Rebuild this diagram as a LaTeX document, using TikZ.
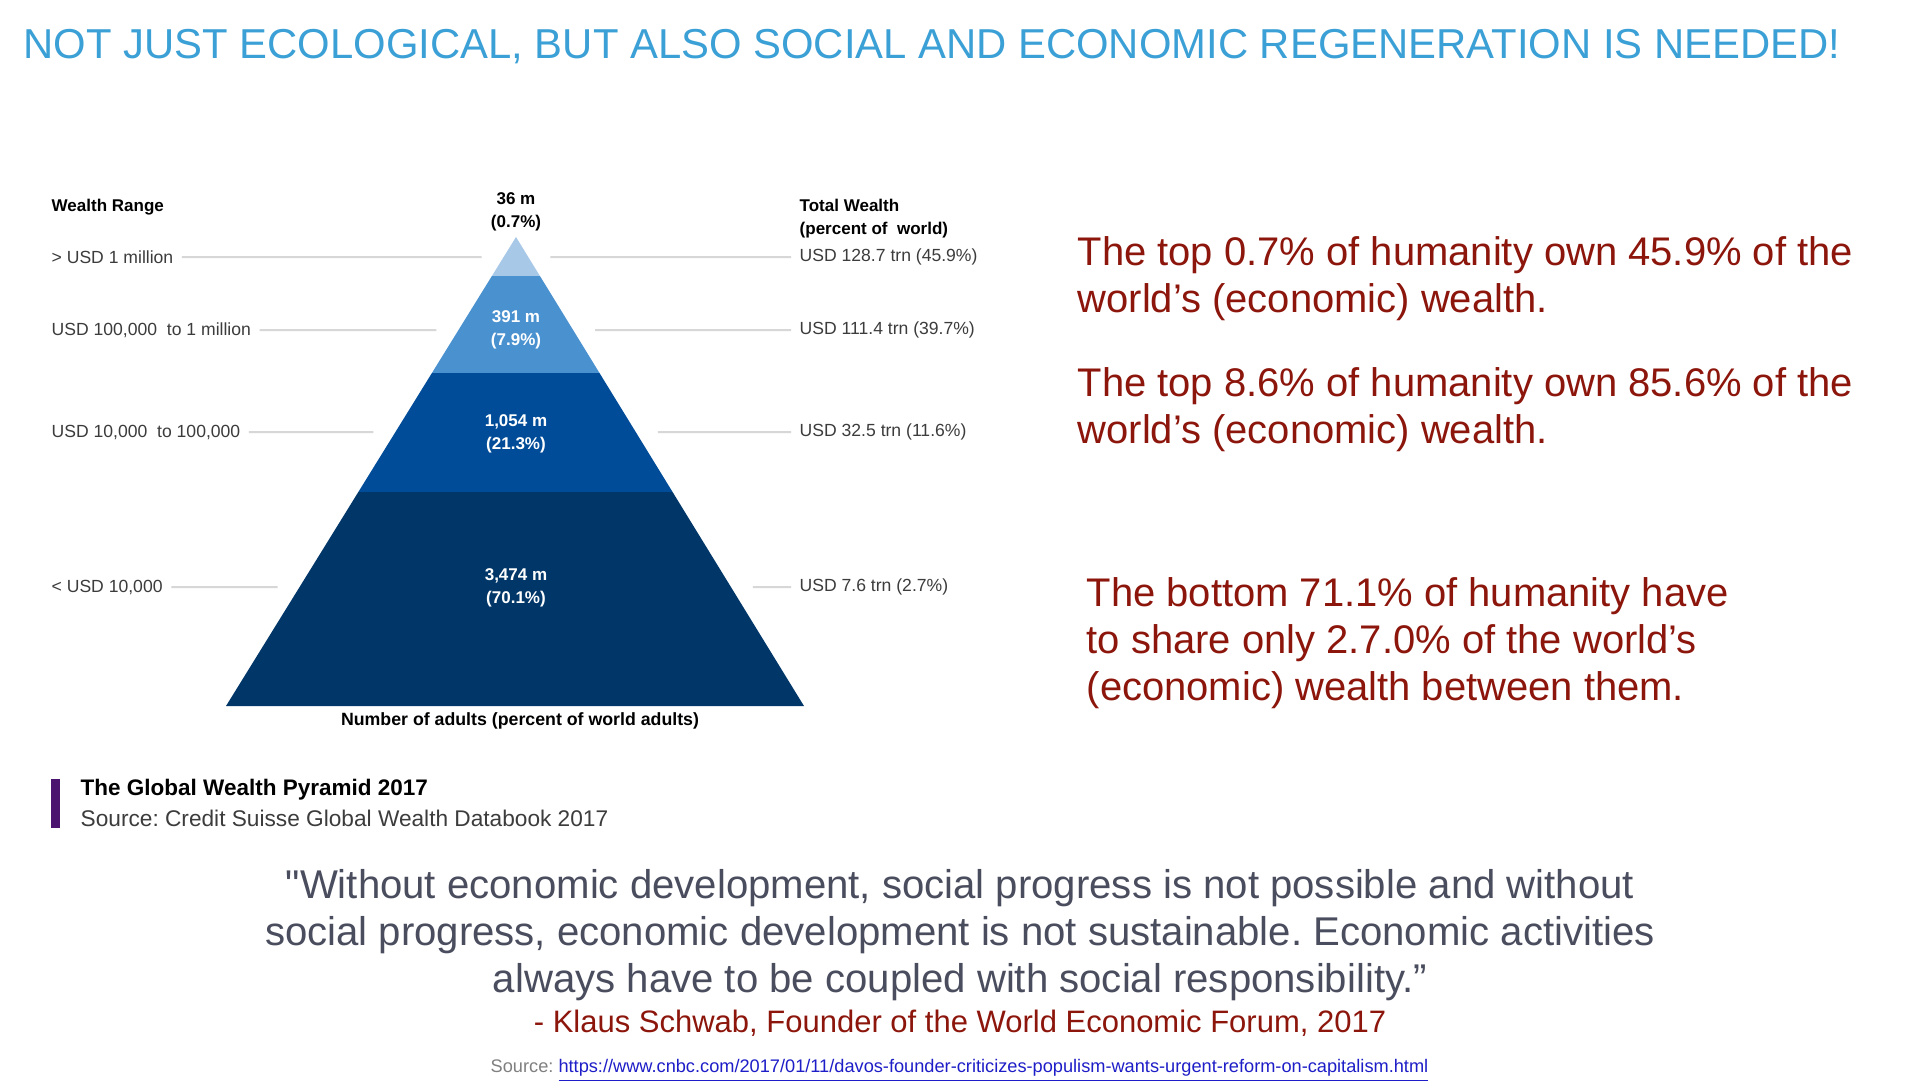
\documentclass[tikz,border=0pt]{standalone}
\usepackage{fontspec}
\setmainfont{Liberation Sans}
\usetikzlibrary{calc}

\definecolor{titleblue}{RGB}{59,160,214}
\definecolor{remarkred}{RGB}{140,22,12}
\definecolor{quotegray}{RGB}{74,77,94}
\definecolor{leadgray}{RGB}{215,215,215}
\definecolor{labelgray}{RGB}{60,60,60}
\definecolor{tierA}{RGB}{168,200,232}
\definecolor{tierB}{RGB}{74,145,208}
\definecolor{tierC}{RGB}{0,76,152}
\definecolor{tierD}{RGB}{0,55,104}
\definecolor{barpurple}{RGB}{75,20,110}
\definecolor{urlblue}{RGB}{30,30,200}

\begin{document}
\frenchspacing
\begin{tikzpicture}[x=0.1mm,y=-0.1mm,
		lead/.style={draw=leadgray,line width=0.2mm},
		rowlabel/.style={font=\fontsize{5.0}{6.5}\selectfont,text=labelgray,inner sep=0pt},
		tierlabel/.style={font=\bfseries\fontsize{4.84}{6.5}\selectfont,text=white,align=center,inner sep=0pt},
		headlabel/.style={font=\bfseries\fontsize{4.84}{6.5}\selectfont,align=left,inner sep=0pt},
		remark/.style={font=\fontsize{11.37}{13.37}\selectfont,text=remarkred,align=left,inner sep=0pt,anchor=base west},
		quoteline/.style={font=\fontsize{11.42}{13.37}\selectfont,text=quotegray,align=center,inner sep=0pt,anchor=base}]
				\fill[white] (0,0) rectangle (1920,1080);
				\useasboundingbox (0,0) rectangle (1920,1080);
				
				\node[anchor=base west,inner sep=0pt,text=titleblue,font=\fontsize{11.9}{13}\selectfont] (title) at (23,58) {NOT JUST ECOLOGICAL, BUT ALSO SOCIAL AND ECONOMIC REGENERATION IS NEEDED!};
				
				% pyramid
				\coordinate (top) at (516,237);
				\coordinate (bl) at (226,706);
				\coordinate (br) at (804,706);
				\coordinate (s1l) at ($(top)!0.0832!(bl)$);
				\coordinate (s1r) at ($(top)!0.0832!(br)$);
				\coordinate (s2l) at ($(top)!0.29!(bl)$);
				\coordinate (s2r) at ($(top)!0.29!(br)$);
				\coordinate (s3l) at ($(top)!0.5437!(bl)$);
				\coordinate (s3r) at ($(top)!0.5437!(br)$);
				\fill[tierA] (top) -- (s1r) -- (s1l) -- cycle;
				\fill[tierB] (s1l) -- (s1r) -- (s2r) -- (s2l) -- cycle;
				\fill[tierC] (s2l) -- (s2r) -- (s3r) -- (s3l) -- cycle;
				\fill[tierD] (s3l) -- (s3r) -- (br) -- (bl) -- cycle;
				
				\node[headlabel,align=center] (tip) at (516,212) {36 m\\(0.7\%)};
				\node[tierlabel] (n2) at (516,330) {391 m\\(7.9\%)};
				\node[tierlabel] (n3) at (516,434) {1,054 m\\(21.3\%)};
				\node[tierlabel] (n4) at (516,588) {3,474 m\\(70.1\%)};
				\node[headlabel,font=\bfseries\fontsize{5.05}{6.5}\selectfont] (adults) at (520,721) {Number of adults (percent of world adults)};
				
				\node[headlabel,anchor=west] (range) at (51,207) {Wealth Range};
				\node[headlabel,anchor=west] (total) at (799,219) {Total Wealth\\(percent of~ world)};
				
				% rows
				\coordinate (pl1) at ($(top)!0.0426!(bl)$);
				\coordinate (pr1) at ($(top)!0.0426!(br)$);
				\coordinate (pl2) at ($(top)!0.1983!(bl)$);
				\coordinate (pr2) at ($(top)!0.1983!(br)$);
				\coordinate (pl3) at ($(top)!0.4158!(bl)$);
				\coordinate (pr3) at ($(top)!0.4158!(br)$);
				\coordinate (pl4) at ($(top)!0.7463!(bl)$);
				\coordinate (pr4) at ($(top)!0.7463!(br)$);
				
				\node[rowlabel,anchor=west] (w1) at (51,257) {> USD 1 million};
				\node[rowlabel,anchor=west] (w2) at (51,330) {USD 100,000~ to 1 million};
				\node[rowlabel,anchor=west] (w3) at (51,432) {USD 10,000~ to 100,000};
				\node[rowlabel,anchor=west] (w4) at (51,587) {< USD 10,000};
				\node[rowlabel,anchor=west] (t1) at (799,257) {USD 128.7 trn (45.9\%)};
				\node[rowlabel,anchor=west] (t2) at (799,330) {USD 111.4 trn (39.7\%)};
				\node[rowlabel,anchor=west] (t3) at (799,432) {USD 32.5 trn (11.6\%)};
				\node[rowlabel,anchor=west] (t4) at (799,587) {USD 7.6 trn (2.7\%)};
				
				\draw[lead] ([xshift=0.8mm]w1.east) -- ([xshift=-2.2mm]pl1);
				\draw[lead] ([xshift=0.8mm]w2.east) -- ([xshift=-2.2mm]pl2);
				\draw[lead] ([xshift=0.8mm]w3.east) -- ([xshift=-2.2mm]pl3);
				\draw[lead] ([xshift=0.8mm]w4.east) -- ([xshift=-2.2mm]pl4);
				\draw[lead] ([xshift=2.2mm]pr1) -- ([xshift=-0.8mm]t1.west);
				\draw[lead] ([xshift=2.2mm]pr2) -- ([xshift=-0.8mm]t2.west);
				\draw[lead] ([xshift=2.2mm]pr3) -- ([xshift=-0.8mm]t3.west);
				\draw[lead] ([xshift=2.2mm]pr4) -- ([xshift=-0.8mm]t4.west);
				
				% caption
				\fill[barpurple] (51,779) rectangle (60,828);
				\node[anchor=base west,inner sep=0pt,font=\bfseries\fontsize{6.4}{7}\selectfont] (cap) at (80,795) {The Global Wealth Pyramid 2017};
				\node[anchor=base west,inner sep=0pt,text=labelgray,font=\fontsize{6.45}{7}\selectfont] (capsrc) at (80,826) {Source: Credit Suisse Global Wealth Databook 2017};
				
				% remarks
				\node[remark] (r1) at (1077,312) {The top 0.7\% of humanity own 45.9\% of the\\world’s (economic) wealth.};
				\node[remark] (r2) at (1077,443) {The top 8.6\% of humanity own 85.6\% of the\\world’s (economic) wealth.};
				\node[remark] (r3) at (1086,700) {The bottom 71.1\% of humanity have\\to share only 2.7.0\% of the world’s\\(economic) wealth between them.};
				
				% quote
				\node[quoteline] (q) at (960,992) {\textquotedbl Without economic development, social progress is not possible and without\\social progress, economic development is not sustainable. Economic activities\\always have to be coupled with social responsibility.”};
				\node[quoteline,text=remarkred,font=\fontsize{8.82}{10}\selectfont] (who) at (960,1032) {- Klaus Schwab, Founder of the World Economic Forum, 2017};
				\node[anchor=base west,inner sep=0pt,text=gray,font=\fontsize{5.18}{6}\selectfont] (url) at (490,1072) {Source: \textcolor{urlblue}{\underline{https://www.cnbc.com/2017/01/11/davos-founder-criticizes-populism-wants-urgent-reform-on-capitalism.html}}};
\end{tikzpicture}
\end{document}
